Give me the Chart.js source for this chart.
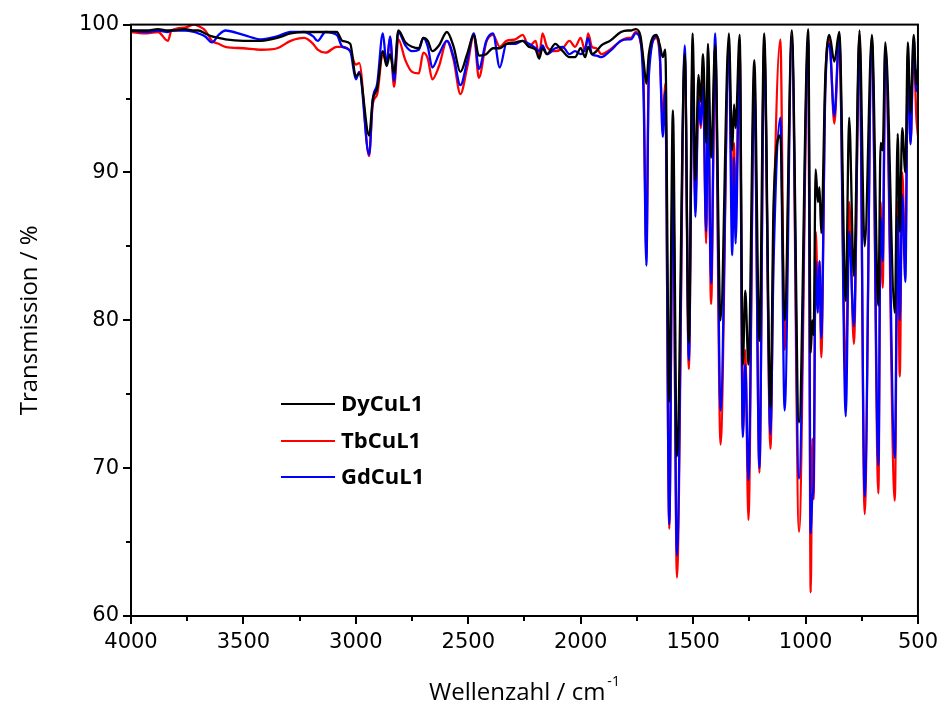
<!DOCTYPE html>
<html>
<head>
<meta charset="utf-8">
<title>IR-Spektren</title>
<script src="https://cdn.jsdelivr.net/npm/chart.js@4.4.1/dist/chart.umd.min.js"></script>
<style>
    html, body { margin: 0; padding: 0; background: #fff; }
    #wrap { width: 952px; height: 710px; }
</style>
</head>
<body>
<div id="wrap"><canvas id="irChart" width="952" height="710"></canvas></div>
<script>
// Wellenzahl (cm-1) und Transmission (%) der drei Proben
const wavenumbers = [
    4000, 3930, 3880, 3836, 3820, 3760, 3720, 3700, 3670, 3640, 3610, 3580, 3500, 3420, 3350, 3290,
    3230, 3190, 3170, 3135, 3085, 3060, 3025, 3000, 2985, 2941, 2925, 2905, 2880, 2863, 2848, 2830,
    2811, 2780, 2750, 2720, 2700, 2680, 2660, 2630, 2595, 2565, 2535, 2505, 2475, 2453, 2420, 2390,
    2360, 2330, 2290, 2258, 2230, 2200, 2185, 2170, 2150, 2113, 2080, 2050, 2025, 2000, 1980, 1967,
    1950, 1930, 1908, 1870, 1821, 1790, 1777, 1755, 1735, 1720, 1708, 1697, 1663, 1648, 1635, 1624,
    1606, 1590, 1572, 1537, 1519, 1502, 1490, 1476, 1466, 1456, 1442, 1434, 1420, 1402, 1378, 1341,
    1326, 1318, 1311, 1293, 1279, 1268, 1254, 1228, 1205, 1184, 1156, 1142, 1112, 1093, 1061, 1029,
    988, 977, 970, 964, 955, 945, 938, 930, 912, 894, 872, 850, 821, 806, 785, 760,
    737, 705, 676, 666, 657, 645, 603, 590, 581, 570, 556, 545, 533, 519, 507, 500
];
const dyCuL1 = [
    99.6, 99.6, 99.7, 99.6, 99.6, 99.7, 99.6, 99.6, 99.4, 99.2, 99.1, 99.0, 98.9, 98.9, 99.1, 99.4,
    99.5, 99.5, 99.5, 99.5, 99.5, 98.9, 98.7, 96.5, 96.7, 92.5, 94.9, 95.7, 98.2, 97.2, 98.0, 96.7,
    99.6, 98.8, 98.5, 98.4, 99.1, 98.9, 98.2, 98.6, 99.5, 98.5, 96.8, 98.0, 99.3, 97.9, 98.0, 98.4,
    98.4, 98.7, 98.8, 98.9, 98.5, 98.3, 97.7, 98.4, 98.0, 98.7, 98.2, 97.8, 97.8, 98.4, 97.8, 98.5,
    98.0, 98.2, 98.6, 98.9, 99.5, 99.6, 99.6, 99.7, 99.3, 97.5, 96.0, 98.0, 99.3, 98.6, 97.8, 98.3,
    74.5, 94.2, 70.8, 98.0, 78.5, 99.4, 89.5, 96.6, 94.8, 98.0, 92.0, 98.7, 91.0, 98.6, 80.0, 99.4,
    91.5, 94.6, 93.0, 99.3, 77.0, 82.0, 77.0, 97.6, 78.6, 99.4, 74.1, 88.0, 92.5, 80.0, 99.6, 73.1,
    99.7, 77.8, 80.0, 79.0, 90.2, 88.0, 89.0, 85.9, 96.5, 99.3, 97.5, 99.5, 81.3, 93.7, 83.0, 99.6,
    85.0, 99.3, 81.0, 92.0, 91.5, 98.8, 80.5, 92.6, 86.0, 93.0, 90.0, 98.8, 94.0, 99.3, 96.0, 97.0
];
const tbCuL1 = [
    99.5, 99.4, 99.5, 98.9, 99.6, 99.8, 100.0, 99.9, 99.6, 98.9, 98.7, 98.5, 98.4, 98.3, 98.4, 98.9,
    99.1, 98.7, 98.3, 98.1, 98.5, 98.5, 98.2, 97.3, 97.4, 91.1, 94.6, 95.3, 98.1, 97.4, 99.1, 95.8,
    99.0, 97.6, 96.8, 96.7, 98.1, 97.7, 96.3, 97.2, 98.9, 97.6, 95.3, 97.1, 99.3, 96.4, 98.8, 99.3,
    98.5, 98.9, 99.0, 99.3, 98.5, 98.9, 97.8, 99.4, 98.5, 98.2, 98.4, 98.9, 98.5, 99.1, 98.2, 99.4,
    98.5, 98.4, 98.0, 98.3, 98.9, 99.1, 99.1, 99.5, 98.9, 96.0, 84.3, 97.2, 99.1, 97.8, 93.5, 96.0,
    65.9, 91.0, 62.6, 97.8, 76.7, 97.8, 88.0, 95.3, 93.0, 96.4, 85.2, 96.0, 81.1, 98.5, 71.6, 98.8,
    88.0, 92.0, 87.0, 98.7, 72.5, 78.0, 66.5, 96.8, 69.7, 99.0, 71.3, 86.0, 99.0, 78.0, 99.2, 65.7,
    98.8, 61.6, 72.0, 67.9, 86.0, 82.0, 84.0, 77.5, 96.0, 99.0, 93.3, 99.0, 76.0, 88.0, 78.4, 99.3,
    66.9, 99.1, 68.3, 88.0, 82.2, 98.2, 67.8, 88.0, 76.2, 90.0, 84.0, 98.0, 92.0, 98.5, 93.7, 92.5
];
const gdCuL1 = [
    99.6, 99.5, 99.6, 99.5, 99.6, 99.6, 99.5, 99.4, 99.2, 98.8, 99.3, 99.6, 99.3, 99.0, 99.2, 99.5,
    99.5, 99.2, 98.9, 99.5, 99.3, 98.5, 98.2, 96.3, 96.8, 91.2, 94.9, 96.0, 99.4, 97.3, 99.2, 96.2,
    99.5, 98.6, 98.2, 98.3, 99.1, 98.5, 97.1, 98.0, 98.9, 97.8, 95.9, 97.5, 99.4, 97.0, 98.9, 99.4,
    97.1, 98.7, 98.7, 98.9, 98.7, 98.4, 98.2, 98.6, 98.0, 98.4, 98.5, 98.0, 98.2, 98.0, 98.4, 99.1,
    98.0, 97.9, 97.8, 98.2, 98.9, 99.0, 99.0, 99.4, 99.0, 95.0, 83.7, 96.5, 99.2, 98.0, 92.4, 95.5,
    66.2, 90.2, 64.1, 98.6, 77.3, 97.5, 87.0, 95.0, 93.2, 95.8, 86.0, 95.5, 82.5, 99.4, 73.9, 98.3,
    84.4, 91.0, 85.2, 98.2, 72.1, 77.0, 69.2, 95.9, 70.0, 98.4, 72.3, 84.0, 93.7, 73.9, 99.0, 69.3,
    99.0, 65.6, 68.0, 69.0, 84.0, 80.5, 84.0, 78.8, 95.5, 98.7, 93.8, 99.3, 73.5, 86.0, 79.6, 99.0,
    68.1, 99.0, 70.2, 87.0, 84.0, 98.5, 70.7, 87.0, 80.0, 88.5, 82.6, 97.5, 91.9, 99.1, 95.5, 96.5
];

const seriesNames = ['DyCuL1', 'TbCuL1', 'GdCuL1'];
const seriesColors = ['#000000', '#ff0000', '#0000ff'];

const xTickValues = [4000, 3500, 3000, 2500, 2000, 1500, 1000, 500];
const xMinorValues = [3750, 3250, 2750, 2250, 1750, 1250, 750];
const yTickValues = [60, 70, 80, 90, 100];
const yMinorValues = [65, 75, 85, 95];

const tickFont = "'DejaVu Sans', sans-serif";
const titleFont = "'Open Sans', sans-serif";

function toPoints(values) {
    return wavenumbers.map(function (w, i) {
        return { x: w, y: values[i] };
    });
}

// Rahmen, Teilstriche, Achsentitel und Legende
const decorPlugin = {
    id: 'decor',
    afterDatasetsDraw(chart) {
        const ctx = chart.ctx;
        const a = chart.chartArea;
        const xs = chart.scales.x;
        const ys = chart.scales.y;

        ctx.save();
        ctx.strokeStyle = '#000';
        ctx.lineWidth = 2;
        ctx.strokeRect(a.left, a.top, a.right - a.left, a.bottom - a.top);

        ctx.beginPath();
        xTickValues.forEach(function (v) {
            const px = Math.round(xs.getPixelForValue(v));
            ctx.moveTo(px, a.bottom);
            ctx.lineTo(px, a.bottom + 8);
        });
        xMinorValues.forEach(function (v) {
            const px = Math.round(xs.getPixelForValue(v));
            ctx.moveTo(px, a.bottom);
            ctx.lineTo(px, a.bottom + 5);
        });
        yTickValues.forEach(function (v) {
            const py = Math.round(ys.getPixelForValue(v));
            ctx.moveTo(a.left, py);
            ctx.lineTo(a.left - 8, py);
        });
        yMinorValues.forEach(function (v) {
            const py = Math.round(ys.getPixelForValue(v));
            ctx.moveTo(a.left, py);
            ctx.lineTo(a.left - 5, py);
        });
        ctx.stroke();

        // x-Achsentitel mit hochgestelltem -1
        ctx.fillStyle = '#000';
        ctx.font = '24px ' + titleFont;
        ctx.textBaseline = 'alphabetic';
        const main = 'Wellenzahl / cm';
        const mainW = ctx.measureText(main).width;
        ctx.font = '14px ' + titleFont;
        const supW = ctx.measureText('-1').width;
        const startX = (a.left + a.right) / 2 - (mainW + supW + 2) / 2;
        ctx.font = '24px ' + titleFont;
        ctx.textAlign = 'left';
        ctx.fillText(main, startX, 700);
        ctx.font = '14px ' + titleFont;
        ctx.fillText('-1', startX + mainW + 2, 686);

        // y-Achsentitel
        ctx.save();
        ctx.translate(30, (a.top + a.bottom) / 2);
        ctx.rotate(-Math.PI / 2);
        ctx.font = '24px ' + titleFont;
        ctx.textAlign = 'center';
        ctx.textBaseline = 'middle';
        ctx.fillText('Transmission / %', 0, 0);
        ctx.restore();

        // Legende
        const legendY = [404, 441, 477];
        ctx.font = 'bold 22px ' + titleFont;
        ctx.textAlign = 'left';
        ctx.textBaseline = 'middle';
        seriesNames.forEach(function (name, i) {
            ctx.strokeStyle = seriesColors[i];
            ctx.lineWidth = 2;
            ctx.beginPath();
            ctx.moveTo(281, legendY[i]);
            ctx.lineTo(335, legendY[i]);
            ctx.stroke();
            ctx.fillStyle = '#000';
            ctx.fillText(name, 341, legendY[i] + 1);
        });
        ctx.restore();
    }
};

const datasets = [dyCuL1, tbCuL1, gdCuL1].map(function (values, i) {
    return {
        label: seriesNames[i],
        data: toPoints(values),
        borderColor: seriesColors[i],
        borderWidth: 2.3,
        pointRadius: 0,
        cubicInterpolationMode: 'monotone',
        fill: false,
        // schwarz oben, dann blau, rot unten
        order: [0, 2, 1][i]
    };
});

function plainLabel(value) {
    return String(value);
}

new Chart(document.getElementById('irChart').getContext('2d'), {
    type: 'line',
    data: { datasets: datasets },
    options: {
        responsive: false,
        animation: false,
        devicePixelRatio: 1,
        layout: { padding: { top: 22, right: 17, left: 0, bottom: 0 } },
        plugins: {
            legend: { display: false },
            tooltip: { enabled: false }
        },
        scales: {
            x: {
                type: 'linear',
                reverse: true,
                min: 500,
                max: 4000,
                grid: { display: false, drawTicks: false },
                border: { display: false },
                afterBuildTicks: function (scale) {
                    scale.ticks = xTickValues.map(function (v) { return { value: v }; });
                },
                afterFit: function (scale) { scale.height = 94; },
                ticks: {
                    autoSkip: false,
                    maxRotation: 0,
                    padding: 14,
                    color: '#000',
                    callback: plainLabel,
                    font: { family: tickFont, size: 21, style: 'condensed' }
                }
            },
            y: {
                min: 60,
                max: 100,
                grid: { display: false, drawTicks: false },
                border: { display: false },
                afterBuildTicks: function (scale) {
                    scale.ticks = yTickValues.map(function (v) { return { value: v }; });
                },
                afterFit: function (scale) { scale.width = 131; },
                ticks: {
                    padding: 12,
                    color: '#000',
                    callback: plainLabel,
                    font: { family: tickFont, size: 21, style: 'condensed' }
                }
            }
        }
    },
    plugins: [decorPlugin]
});
</script>
</body>
</html>
